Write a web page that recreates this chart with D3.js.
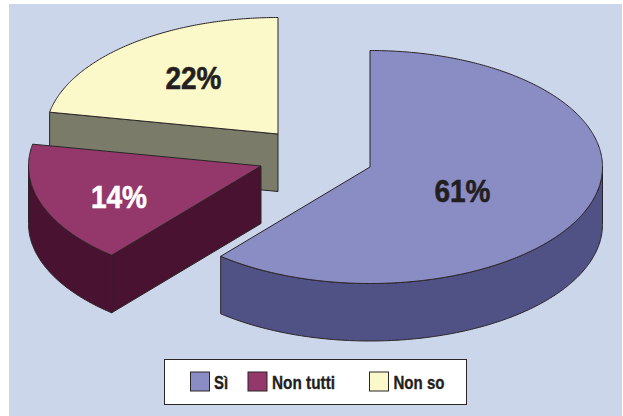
<!DOCTYPE html>
<html>
<head>
<meta charset="utf-8">
<script src="https://cdnjs.cloudflare.com/ajax/libs/d3/7.8.5/d3.min.js"></script>
<style>
html,body{margin:0;padding:0;background:#fff;}
svg{display:block;}
text{font-family:"Liberation Sans Narrow","Liberation Sans",Arial,sans-serif;font-weight:700;}
</style>
</head>
<body>
<svg id="chart" width="623" height="416"></svg>
<script>
// Data
const categories = ["Sì", "Non tutti", "Non so"];
const printedLabels = ["61%", "14%", "22%"];
// Angular share each slice actually occupies in the drawing
const drawnShares = [61.1, 16.9, 22];
const topColors = ["#8a8dc3", "#94386b", "#fbf8c9"];
const sideColors = ["#505185", "#481230", "#7a7c69"];
const labelColors = ["#231f20", "#ffffff", "#231f20"];

// Layout
const rx = 232.5, ry = 116.5, depth = 57.5;
const centers = [[370, 167], [261, 166], [278, 134]];
const labelPos = [[462.5, 191], [119, 197], [193.5, 78]];
const ink = "#2a2526";

const svg = d3.select("#chart");
svg.append("rect").attr("x", 9).attr("y", 4).attr("width", 613).attr("height", 412).attr("fill", "#ccd6ea");

const pie = d3.pie().sort(null).value(d => d)(drawnShares);

function pt(c, a, dz) {
  return [c[0] + rx * Math.sin(a), c[1] - ry * Math.cos(a) + (dz || 0)];
}
function arcPts(c, a0, a1, dz) {
  const n = Math.max(2, Math.ceil(Math.abs(a1 - a0) / 0.01));
  return d3.range(n + 1).map(i => pt(c, a0 + (a1 - a0) * i / n, dz));
}
const line = d3.line();
const path = pts => line(pts) + "Z";
const styled = (d, fill) => svg.append("path").attr("d", d).attr("fill", fill)
  .attr("stroke", ink).attr("stroke-width", 1).attr("stroke-linejoin", "round");

// Slices drawn back to front: Non so, Non tutti, Sì
[2, 1, 0].forEach(i => {
  const s = pie[i], c = centers[i];
  const a0 = s.startAngle, a1 = s.endAngle;

  if (i === 2) {
    // exposed cut face of the yellow slice
    const p = pt(c, a0);
    styled(path([p, c, [c[0], c[1] + depth], [p[0], p[1] + depth]]), sideColors[i]);
  }
  if (i === 1) {
    // rim plus front cut face
    const p0 = pt(c, a0);
    const rimStart = Math.max(a0, Math.PI / 2);
    const rimEnd = Math.min(a1, 1.5 * Math.PI);
    styled(path(arcPts(c, rimStart, rimEnd).concat(arcPts(c, rimEnd, rimStart, depth))), sideColors[i]);
    styled(path([c, p0, [p0[0], p0[1] + depth], [c[0], c[1] + depth]]), sideColors[i]);
  }
  if (i === 0) {
    const rimStart = Math.PI / 2, rimEnd = a1;
    styled(path(arcPts(c, rimStart, rimEnd).concat(arcPts(c, rimEnd, rimStart, depth))), sideColors[i]);
  }
  styled(path([c].concat(arcPts(c, a0, a1))), topColors[i]);
});

// Percentage labels
printedLabels.forEach((t, i) => {
  svg.append("text").text(t).attr("x", labelPos[i][0]).attr("y", labelPos[i][1] + 10.5)
    .attr("text-anchor", "middle").attr("font-size", 31).attr("fill", labelColors[i])
    .attr("stroke", labelColors[i]).attr("stroke-width", 0.6)
    .attr("textLength", 56).attr("lengthAdjust", "spacingAndGlyphs");
});

// Legend
const legend = svg.append("g");
legend.append("rect").attr("x", 164.5).attr("y", 359.5).attr("width", 302).attr("height", 45)
  .attr("fill", "#fff").attr("stroke", ink).attr("stroke-width", 1);
const swatchX = [190.5, 248, 369.5];
const textX = [214, 272, 393.5];
const textW = [14, 63, 51];
categories.forEach((t, i) => {
  legend.append("rect").attr("x", swatchX[i]).attr("y", 372).attr("width", 19).attr("height", 19)
    .attr("fill", topColors[i]).attr("stroke", ink).attr("stroke-width", 1);
  legend.append("text").text(t).attr("x", textX[i]).attr("y", 389)
    .attr("font-size", 19).attr("fill", "#231f20")
    .attr("stroke", "#231f20").attr("stroke-width", 0.35)
    .attr("textLength", textW[i]).attr("lengthAdjust", "spacingAndGlyphs");
});
</script>
</body>
</html>
